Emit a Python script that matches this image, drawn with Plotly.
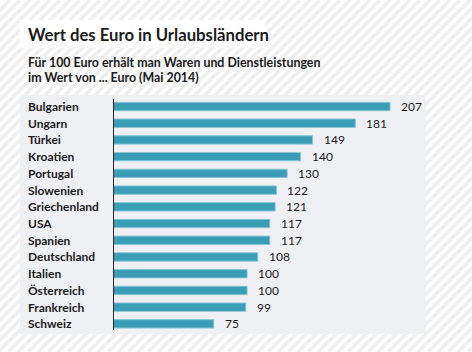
import plotly.graph_objects as go

countries = ["Bulgarien", "Ungarn", "Türkei", "Kroatien", "Portugal", "Slowenien",
             "Griechenland", "USA", "Spanien", "Deutschland", "Italien", "Österreich",
             "Frankreich", "Schweiz"]
values = [207, 181, 149, 140, 130, 122, 121, 117, 117, 108, 100, 100, 99, 75]

title = "Wert des Euro in Urlaubsländern"
subtitle1 = "Für 100 Euro erhält man Waren und Dienstleistungen"
subtitle2 = "im Wert von ... Euro (Mai 2014)"

W, H = 472, 352
FONT = "Lato, sans-serif"
BAR = "#3c9eb6"
TXT = "#1b1b1b"

# pixel geometry
base_px = 113.5
k = (390 - base_px) / 207.0
row0, step = 106.5, 16.72

def px_to_paper_y(py):
    return 1 - py / H

def px_to_cat(py):
    return (py - row0) / step

fig = go.Figure()
fig.add_trace(go.Bar(
    x=values, y=countries, orientation="h",
    marker=dict(color=BAR, line=dict(color="#86c5d5", width=1)),
    width=0.5, hoverinfo="skip",
))

shapes = []
# diagonal stripes background
for x0 in range(-H, W + 20, 10):
    shapes.append(dict(type="line", xref="paper", yref="paper",
                       x0=x0 / W, y0=0, x1=(x0 + H) / W, y1=1,
                       line=dict(color="#efefef", width=3.6), layer="below"))
# panel
shapes.append(dict(type="rect", xref="paper", yref="paper",
                   x0=20 / W, x1=425.5 / W, y0=px_to_paper_y(334), y1=px_to_paper_y(95),
                   fillcolor="#eff0f4", line=dict(width=0), layer="below"))
# title box
shapes.append(dict(type="rect", xref="paper", yref="paper",
                   x0=20 / W, x1=265 / W, y0=px_to_paper_y(48), y1=px_to_paper_y(20),
                   fillcolor="#ffffff", line=dict(width=0), layer="below"))
# axis line
shapes.append(dict(type="line", xref="x", yref="paper", x0=0, x1=0,
                   y0=px_to_paper_y(330), y1=px_to_paper_y(99),
                   line=dict(color="#2a2a2a", width=1), layer="above"))

annotations = [
    dict(text="<b>" + title + "</b>", xref="paper", yref="paper", x=26 / W, y=px_to_paper_y(35),
         xanchor="left", yanchor="middle", showarrow=False, font=dict(family=FONT, size=16.7, color=TXT)),
    dict(text="<b>" + subtitle1 + "</b>", xref="paper", yref="paper", x=26 / W, y=px_to_paper_y(62),
         xanchor="left", yanchor="middle", showarrow=False, font=dict(family=FONT, size=12.4, color=TXT)),
    dict(text="<b>" + subtitle2 + "</b>", xref="paper", yref="paper", x=26 / W, y=px_to_paper_y(77),
         xanchor="left", yanchor="middle", showarrow=False, font=dict(family=FONT, size=12.4, color=TXT)),
]
for c, v in zip(countries, values):
    annotations.append(dict(text="<b>" + c + "</b>", xref="paper", yref="y", x=26 / W, y=c,
                            xanchor="left", yanchor="middle", showarrow=False,
                            font=dict(family=FONT, size=12, color=TXT)))
    annotations.append(dict(text=str(v), xref="x", yref="y", x=v, y=c, xshift=9,
                            xanchor="left", yanchor="middle", showarrow=False,
                            font=dict(family=FONT, size=12, color=TXT)))

fig.update_layout(
    width=W, height=H, margin=dict(l=0, r=0, t=0, b=0),
    paper_bgcolor="#ffffff", plot_bgcolor="rgba(0,0,0,0)",
    showlegend=False, shapes=shapes, annotations=annotations,
    xaxis=dict(range=[-base_px / k, (W - base_px) / k], visible=False, fixedrange=True),
    yaxis=dict(type="category", categoryorder="array", categoryarray=countries,
               range=[px_to_cat(H), px_to_cat(0)], visible=False, fixedrange=True),
)
fig.write_html("out.html", config={"displayModeBar": False})
